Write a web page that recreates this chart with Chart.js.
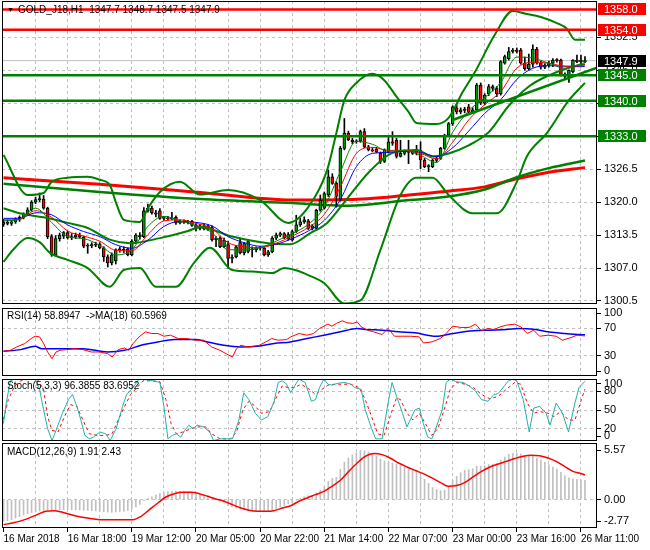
<!DOCTYPE html>
<html><head><meta charset="utf-8">
<script src="https://cdn.jsdelivr.net/npm/chart.js@4.4.1/dist/chart.umd.min.js"></script>
<style>
html,body{margin:0;padding:0;background:#fff;width:650px;height:550px;overflow:hidden}
canvas{position:absolute;left:0}
</style></head><body>
<canvas id="cMain" width="650" height="306" style="top:0px"></canvas>
<canvas id="cRsi" width="650" height="71" style="top:306px"></canvas>
<canvas id="cSto" width="650" height="65" style="top:377px"></canvas>
<canvas id="cMacd" width="650" height="108" style="top:442px"></canvas>
<script>
// ---------------- DATA ----------------
const xLabels = ['16 Mar 2018','16 Mar 18:00','19 Mar 12:00','20 Mar 05:00','20 Mar 22:00','21 Mar 14:00','22 Mar 07:00','23 Mar 00:00','23 Mar 16:00','26 Mar 11:00'];
const open  = [1315.6,1316.0,1315.8,1316.1,1316.6,1317.0,1317.6,1318.5,1320.0,1320.5,1320.6,1318.8,1313.2,1309.6,1312.8,1313.3,1314.0,1313.0,1313.2,1313.5,1313.1,1311.3,1311.4,1311.6,1311.7,1311.0,1309.2,1308.0,1308.4,1310.6,1310.7,1310.8,1309.6,1312.3,1313.4,1313.2,1318.3,1318.8,1317.9,1318.3,1316.8,1316.9,1316.7,1317.0,1315.9,1316.2,1316.0,1316.2,1315.4,1314.8,1315.3,1314.7,1315.0,1312.6,1312.9,1311.2,1311.6,1308.9,1309.2,1312.0,1310.0,1310.3,1310.8,1310.6,1310.9,1310.9,1309.6,1310.2,1312.9,1313.5,1313.8,1312.8,1312.5,1314.2,1315.5,1316.1,1316.3,1314.8,1314.8,1318.4,1318.8,1321.4,1325.0,1323.7,1320.6,1330.6,1333.6,1332.2,1331.9,1332.0,1333.9,1330.9,1330.3,1330.4,1329.6,1328.0,1329.9,1331.9,1332.2,1329.0,1329.6,1329.9,1329.8,1329.7,1330.2,1328.3,1327.0,1327.0,1328.2,1328.6,1330.6,1333.2,1335.4,1338.6,1337.8,1338.2,1338.8,1337.8,1338.2,1343.1,1339.5,1341.4,1342.8,1342.4,1341.4,1347.4,1348.3,1349.7,1350.0,1350.0,1347.4,1346.3,1347.2,1350.2,1347.4,1346.6,1347.0,1347.4,1348.0,1348.0,1345.1,1344.8,1345.7,1348.0,1347.7,1347.7];
const high  = [1316.6,1316.5,1316.4,1316.9,1317.3,1317.9,1318.9,1320.3,1321.0,1321.8,1321.3,1319.0,1313.6,1313.4,1313.9,1314.2,1314.3,1313.8,1313.9,1313.9,1313.3,1311.8,1312.0,1312.1,1312.0,1311.2,1309.6,1310.0,1310.8,1311.2,1311.2,1311.0,1312.6,1313.8,1314.0,1318.9,1319.6,1319.2,1318.4,1318.7,1317.2,1317.2,1318.0,1317.3,1316.5,1316.5,1316.4,1316.4,1315.8,1315.6,1315.6,1315.5,1315.3,1313.2,1313.2,1312.9,1312.3,1309.6,1311.5,1312.9,1312.0,1312.5,1311.2,1311.2,1311.3,1311.2,1310.5,1313.2,1313.9,1314.1,1314.0,1314.0,1314.5,1317.4,1316.8,1317.1,1316.6,1315.6,1318.6,1321.4,1322.0,1326.3,1325.6,1324.0,1331.0,1336.5,1334.0,1332.6,1332.3,1334.2,1334.5,1331.2,1330.7,1330.8,1329.9,1330.5,1332.9,1333.9,1332.6,1332.2,1330.3,1332.2,1330.2,1331.2,1331.9,1328.6,1327.4,1328.5,1328.9,1330.8,1333.4,1335.7,1339.0,1339.2,1338.6,1338.7,1339.3,1338.6,1343.4,1343.5,1341.4,1343.2,1343.1,1342.8,1347.9,1349.0,1350.5,1350.3,1350.4,1350.3,1348.6,1349.2,1351.0,1350.5,1347.8,1347.3,1347.8,1348.3,1348.3,1348.2,1345.5,1346.1,1348.1,1349.0,1349.0,1348.7];
const low   = [1315.2,1315.5,1315.4,1315.8,1316.2,1316.7,1317.3,1318.2,1319.7,1320.1,1318.6,1312.8,1309.3,1309.4,1312.3,1312.8,1312.7,1312.6,1312.8,1312.9,1311.0,1309.9,1311.0,1311.2,1310.8,1308.3,1307.2,1307.6,1307.8,1310.1,1310.0,1309.4,1309.4,1311.8,1312.7,1313.0,1318.0,1317.6,1317.1,1316.6,1316.4,1316.5,1316.5,1315.6,1315.7,1315.8,1315.7,1315.2,1314.3,1314.5,1314.5,1314.4,1312.3,1311.2,1311.0,1311.0,1306.9,1308.0,1309.0,1309.8,1309.6,1310.0,1309.2,1310.2,1310.5,1309.4,1309.3,1310.0,1312.6,1313.2,1312.8,1312.5,1312.3,1314.0,1315.2,1315.8,1314.6,1314.5,1314.6,1318.2,1318.6,1321.1,1323.5,1319.0,1320.2,1330.3,1332.1,1331.5,1331.6,1331.8,1330.7,1330.1,1329.9,1329.7,1327.6,1327.8,1329.7,1331.2,1328.7,1328.9,1329.3,1327.6,1329.4,1329.3,1326.6,1326.8,1326.0,1326.8,1327.9,1328.4,1330.4,1333.0,1335.1,1337.4,1337.4,1337.6,1337.6,1337.5,1338.0,1339.2,1339.2,1341.0,1341.9,1340.8,1341.1,1347.2,1348.0,1349.4,1349.4,1347.2,1346.0,1346.0,1346.6,1347.2,1346.2,1346.3,1346.6,1346.7,1347.6,1344.9,1344.4,1343.6,1345.5,1347.5,1347.3,1347.5];
const close = [1316.0,1315.8,1316.1,1316.6,1317.0,1317.6,1318.5,1320.0,1320.5,1320.7,1318.8,1313.2,1309.6,1312.8,1313.5,1314.0,1313.0,1313.2,1313.5,1313.1,1311.3,1311.4,1311.6,1311.5,1311.0,1309.2,1308.0,1309.6,1310.6,1310.7,1310.5,1309.6,1312.3,1313.5,1313.2,1318.3,1318.8,1317.9,1317.6,1316.8,1316.9,1316.7,1316.9,1315.9,1316.2,1316.0,1316.1,1315.4,1314.8,1315.3,1314.7,1315.2,1312.6,1312.9,1311.2,1312.5,1308.9,1309.1,1311.2,1310.0,1311.8,1312.2,1310.6,1310.9,1311.0,1309.6,1310.2,1312.9,1313.5,1313.8,1313.0,1313.6,1314.2,1315.5,1316.1,1316.5,1314.8,1315.3,1318.4,1320.4,1321.7,1325.0,1323.7,1321.1,1330.6,1333.6,1332.3,1331.9,1332.1,1333.9,1330.9,1330.3,1330.1,1329.9,1328.0,1330.3,1331.9,1331.6,1329.0,1329.6,1329.9,1329.8,1329.6,1330.3,1328.3,1327.0,1327.1,1328.3,1328.6,1330.6,1333.2,1335.5,1338.8,1337.8,1338.2,1338.1,1337.8,1338.2,1343.1,1339.5,1341.1,1342.8,1342.4,1341.4,1347.7,1348.7,1349.7,1350.0,1349.7,1347.4,1346.3,1347.2,1350.2,1347.4,1346.6,1347.0,1347.4,1348.0,1347.9,1345.1,1344.8,1346.0,1348.0,1347.7,1348.0,1347.9];

// thin moving averages (sampled)
const maBars = [0,4,8,12,16,20,24,28,32,36,40,44,48,52,56,60,64,68,72,76,80,84,88,92,96,100,104,108,112,116,120,124,128,132,136,140,144,145];
const maFast = [1316.3,1316.6,1318.8,1316.0,1313.2,1312.8,1311.5,1309.6,1310.6,1315.2,1317.2,1316.3,1315.4,1314.0,1310.6,1310.6,1311.0,1312.3,1313.8,1315.6,1319.0,1326.0,1332.0,1331.4,1330.0,1330.2,1329.2,1327.8,1333.8,1338.0,1340.6,1343.6,1348.6,1348.4,1347.4,1346.4,1347.3,1347.5];
const maMid  = [1316.5,1316.6,1318.3,1317.0,1314.3,1313.3,1312.3,1310.5,1310.4,1313.6,1316.3,1316.5,1315.8,1314.8,1312.0,1311.2,1311.0,1311.9,1313.3,1315.0,1317.6,1323.0,1329.6,1330.8,1330.2,1330.2,1329.6,1328.5,1331.8,1336.2,1339.2,1341.8,1346.4,1347.6,1347.4,1346.8,1346.9,1347.1];
const maSlow = [1316.8,1316.8,1317.9,1317.5,1315.5,1314.2,1313.2,1311.6,1310.9,1312.5,1315.2,1316.2,1316.0,1315.3,1313.2,1312.0,1311.3,1311.7,1312.8,1314.3,1316.4,1320.5,1327.0,1329.6,1329.8,1330.0,1329.8,1329.0,1330.7,1334.0,1337.5,1340.2,1344.2,1346.4,1346.9,1346.8,1346.7,1346.8];

// Bollinger bands (sampled)
const bbUpBars = [0,6,10,12,16,21,24,26.5,28,30,34,36,39,44,49,56,64,71,76,80.7,83,85,88,92,95,98,101,103,108,111,114.5,117.6,122.5,127,130,134,138,140.5,142.5,145];
const bbUp     = [1329.3,1321.4,1321.8,1324.0,1324.8,1325.0,1324.4,1323.4,1320.0,1316.5,1316.1,1318.8,1322.0,1324.0,1321.5,1322.4,1320.4,1315.9,1319.0,1326.3,1333.6,1340.1,1343.5,1345.3,1344.0,1340.8,1337.8,1335.6,1335.4,1336.6,1341.7,1345.7,1353.0,1357.7,1357.2,1356.5,1355.3,1354.2,1352.0,1352.0];
const bbMidBars = [0,4,10,16,21,26.5,31.5,39,46,49,57,66,71.5,76.5,80.7,86,91,97,103,107,111,116,121,126,131,136,141,145];
const bbMid     = [1318.8,1317.8,1317.0,1315.9,1314.9,1312.6,1311.9,1312.9,1314.3,1315.1,1313.2,1311.9,1311.7,1313.9,1315.9,1321.0,1325.8,1329.7,1330.3,1329.0,1329.6,1331.2,1333.8,1339.0,1342.8,1345.0,1346.5,1347.2];
const bbLoBars = [0,2.4,6,9,11.6,16,21,26.5,30,34,38,43,47.5,51.5,57,62,67,70,72.7,76,80,85,89,94,99,103,107,111,117,123,128,130.5,135.5,141,145];
const bbLo     = [1308.2,1310.6,1312.9,1312.1,1310.0,1308.6,1307.0,1303.3,1306.6,1307.0,1303.3,1303.3,1308.0,1311.0,1306.6,1306.3,1306.0,1307.0,1306.6,1305.6,1304.0,1300.0,1300.6,1310.6,1321.4,1324.8,1324.8,1321.4,1317.8,1317.8,1324.0,1329.0,1333.6,1340.1,1343.5];

// long moving averages (sampled)
const lmaBars  = [0,24,49,72,86,100,110,120,128,136,145];
const lmaRed   = [1324.8,1323.5,1321.9,1320.4,1320.5,1321.3,1322.1,1323.0,1324.6,1325.9,1326.8];
const lmaGreen = [1323.6,1322.0,1320.6,1319.8,1319.3,1320.3,1321.0,1322.5,1324.9,1326.7,1328.2];

// trend line and horizontal levels
const trendBars = [112,148];
const trendVals = [1336.2,1346.5];
const redLevels = [1358.0,1354.0];
const greenLevels = [1345.0,1340.0,1333.0];
const lastPrice = 1347.9;
const mainTicks = [1352.5,1346.0,1339.5,1333.0,1326.5,1320.0,1313.5,1307.0,1300.5];

// RSI(14) and MA(18)
const rsiBars = [0,1.7,3.3,5.3,6.9,7.9,9.0,10.0,11.0,12.1,13.1,14.1,15.7,17.8,19.8,21.9,24.0,26.0,27.1,28.6,30.2,31.2,32.3,33.8,35.4,36.9,38.5,40.0,41.6,43.6,45.7,47.8,49.9,51.9,54.0,55.5,57.1,58.1,59.2,60.2,61.2,62.3,63.8,65.4,66.9,68.5,70.6,71.6,73.7,75.7,77.3,78.8,80.9,81.9,83.0,84.5,85.6,87.1,88.2,89.2,90.8,92.3,94.4,95.9,97.5,99.5,101.6,103.7,104.7,106.8,108.9,110.4,112.0,114.0,116.1,117.7,119.2,120.8,122.3,123.9,125.4,127.5,129.0,130.6,132.2,133.7,135.8,137.8,139.4,141.5,143.0,145];
const rsiVals = [36.3,37.8,42.7,47.7,55.1,58.5,57.5,47.7,35.3,25.4,35.3,37.8,38.8,40.2,38.8,35.3,35.3,32.8,27.9,38.8,41.2,37.8,47.7,57.5,65.0,62.5,62.5,58.5,60.0,55.1,55.1,52.6,52.6,42.7,37.8,32.8,27.9,40.2,45.2,43.7,42.7,43.7,45.2,50.1,55.1,52.6,53.6,57.5,62.5,60.0,62.5,69.9,76.3,73.3,77.3,81.2,78.3,77.3,79.7,72.3,67.4,64.9,61.0,69.9,58.5,58.5,58.5,57.5,48.6,50.1,55.1,62.5,73.3,71.4,71.4,76.3,66.4,69.9,68.4,72.3,74.8,76.3,72.3,62.5,67.4,58.5,60.0,58.5,52.6,56.5,60.0,58.9];
const rsiMaBars = [0,4.3,7.9,9.5,13.6,19.8,26.0,30.2,34.3,38.5,42.6,47.8,50.9,55.0,59.2,63.3,67.5,71.6,75.7,79.9,84.0,88.2,90.2,94.4,98.5,102.6,107.8,112.0,117.2,121.3,125.4,128.5,132.7,135.8,139.9,145];
const rsiMaVals = [36.3,38.8,43.7,40.2,40.2,40.2,35.3,37.8,45.2,50.1,53.6,53.6,50.1,45.2,42.7,43.7,47.7,50.1,55.1,60.0,65.0,69.9,68.4,67.4,65.0,63.5,58.5,62.5,66.4,67.4,68.4,69.9,68.4,65.0,62.5,60.6];
const rsiTicks = [100,70,30,0];

// Stochastic(5,3,3)
const stBars = [0,0.7,1.7,2.8,4.3,6.4,7.9,9.0,10.0,11.0,12.1,13.1,14.7,16.2,17.2,18.3,19.3,20.3,21.4,22.4,24.0,25.5,26.6,28.1,29.7,30.7,32.3,33.8,35.4,37.4,39.0,40.0,41.0,42.1,43.1,44.2,45.2,46.2,47.3,48.3,49.9,51.4,52.4,54.0,55.5,57.1,58.7,59.9,61.2,62.8,64.3,65.9,67.5,68.5,69.5,70.6,71.6,72.6,73.7,75.2,76.8,77.8,78.8,79.9,80.9,81.9,83.5,85.1,86.6,87.6,89.2,90.2,91.8,92.8,94.4,95.9,96.9,98.0,99.5,100.6,101.6,102.6,103.7,104.7,105.8,106.8,107.8,109.4,110.4,111.4,113.0,114.6,116.1,117.7,119.2,120.8,122.3,123.4,124.9,125.9,127.0,128.0,129.6,131.1,132.2,133.7,135.3,136.3,137.8,139.4,140.9,142.5,143.5,145];
const stMain = [28.2,61.3,97.1,100,100,99.9,99.9,83.3,50.3,20.0,0.7,17.2,44.8,66.8,75.1,55.8,33.8,9.0,3.5,6.2,14.5,11.7,0.7,20.0,55.8,75.1,86.1,99.9,98.8,97.1,94.4,55.8,3.5,9.0,11.7,6.2,17.2,25.5,20.0,25.5,22.7,14.5,0.7,3.5,3.5,3.5,33.8,77.8,66.8,44.8,33.8,39.3,64.1,94.4,97.1,91.6,77.8,88.9,99.9,94.4,64.1,66.8,86.1,99.9,91.6,90.0,93.3,94.4,91.6,86.1,83.3,50.3,20.0,3.5,3.5,61.3,94.4,72.3,44.8,22.7,36.5,50.3,53.0,28.2,6.2,3.5,20.0,50.3,94.4,99.9,95.5,94.4,88.9,80.6,66.8,64.1,75.1,76.7,88.9,97.1,99.9,97.1,66.8,14.5,53.0,55.8,44.8,25.5,61.3,44.8,14.5,61.3,86.1,96.4];
const sgBars = [0,1.2,2.8,4.3,6.4,8.4,10.0,11.0,12.1,13.6,15.2,16.7,18.3,19.8,21.4,23.5,25.5,27.1,28.6,30.2,31.7,33.3,34.8,36.9,39.0,40.5,41.8,43.1,44.7,46.8,48.3,50.4,51.9,54.0,56.6,58.1,59.7,61.2,62.8,64.3,66.4,68.0,69.5,71.1,72.6,74.2,76.3,77.8,79.4,80.9,82.5,84.5,86.6,88.7,90.2,91.8,93.3,94.9,96.4,98.0,99.0,100.6,102.1,103.7,105.2,106.8,108.3,109.9,111.4,113.0,115.1,117.2,119.2,121.3,123.4,125.4,127.5,129.0,130.6,132.2,133.7,135.8,137.3,138.9,140.9,142.5,144.1,145];
const sgVals = [35,66.8,88.9,97.1,99.9,99.9,83.3,39.3,17.2,14.5,39.3,58.5,55.8,33.8,11.7,9.0,9.0,11.7,33.8,55.8,75.1,86.1,97.1,97.1,95.5,66.8,28.2,11.7,14.5,20.0,22.7,22.7,11.7,3.5,3.5,14.5,50.3,64.1,55.8,44.8,47.5,69.6,88.9,86.1,86.1,91.6,83.3,75.1,83.3,90.0,91.6,91.6,91.6,86.1,66.8,39.3,11.7,9.0,39.3,69.6,66.8,44.8,33.8,44.8,28.2,9.0,20.0,50.3,83.3,94.4,91.6,86.1,75.1,67.9,72.3,83.3,94.4,91.6,61.3,44.8,47.5,44.8,39.3,47.5,33.8,33.8,66.8,83.7];
const stoTicks = [100,80,50,20,0];

// MACD(12,26,9)
const macdHist = [-2.1,-2.05,-1.95,-1.8,-1.65,-1.5,-1.38,-1.27,-1.18,-1.1,
 -1.03,-0.98,-0.97,-0.97,-0.97,-0.97,-0.97,-0.97,-0.98,-1.0,
 -1.02,-1.04,-1.07,-1.1,-1.13,-1.17,-1.2,-1.23,-1.2,-1.15,
 -1.13,-1.05,-0.9,-0.7,-0.45,-0.1,0.15,0.3,0.45,0.6,
 0.7,0.78,0.83,0.85,0.83,0.8,0.75,0.68,0.55,0.45,
 0.35,0.25,0.12,0.02,-0.15,-0.3,-0.55,-0.7,-0.8,-0.9,
 -1.0,-1.05,-1.1,-1.15,-1.15,-1.2,-1.15,-1.0,-0.85,-0.7,
 -0.55,-0.4,-0.3,-0.05,0.15,0.3,0.35,0.4,0.65,0.95,
 1.3,1.8,2.1,2.2,3.0,3.7,4.1,4.4,4.6,4.85,
 4.8,4.7,4.5,4.3,4.0,3.8,3.7,3.6,3.5,3.35,
 3.2,3.05,2.9,2.8,2.3,2.0,1.6,1.2,1.0,0.9,
 0.95,1.3,1.9,2.3,2.65,2.9,2.95,3.05,3.3,3.3,
 3.35,3.45,3.5,3.55,3.9,4.2,4.45,4.55,4.6,4.5,
 4.35,4.3,4.25,4.1,3.9,3.7,3.45,3.2,3.0,2.7,
 2.35,2.15,2.05,2.0,1.95,1.91];
const msBars = [0,2.2,5.3,8.4,10.5,12.6,14.7,17.8,20.9,24.0,27.1,30.2,32.3,34.3,36.4,38.5,40.5,42.6,44.7,46.8,48.8,50.9,53.0,55.0,57.1,59.2,61.2,63.3,65.4,67.4,69.5,71.6,73.7,75.7,77.8,79.9,81.9,84.0,86.1,88.2,90.2,92.3,94.4,96.4,98.5,100.6,102.6,104.7,106.8,108.9,110.9,113.0,115.1,117.1,119.2,121.3,123.4,125.4,127.5,129.6,131.6,133.7,135.8,137.8,139.9,142.0,144.1,145];
const msVals = [-2.44,-2.28,-1.95,-1.46,-1.13,-1.07,-1.23,-1.56,-1.79,-1.95,-1.95,-1.95,-1.95,-1.62,-0.97,-0.32,0.27,0.6,0.73,0.73,0.6,0.34,0.08,-0.15,-0.48,-0.81,-1.03,-1.13,-1.13,-1.07,-0.81,-0.58,-0.15,0.18,0.5,0.83,1.32,1.91,2.79,3.61,4.26,4.53,4.43,4.1,3.61,3.22,2.89,2.56,2.14,1.71,1.32,1.39,1.71,2.24,2.79,3.22,3.51,3.77,4.04,4.26,4.36,4.33,4.1,3.77,3.28,2.79,2.56,2.43];
const macdTicks = [5.57,0.00,-2.77];

// ---------------- STYLE / LAYOUT ----------------
const X_MIN = -0.374, X_MAX = 148.0;
const FONT = "'Liberation Sans', Arial, sans-serif";
const GRID = '#c0c0c0', GREEN = '#008000', RED = '#ff0000', BLUE = '#0000ff', TEAL = '#20b2aa';
const AXIS_W = 53;

const pts = (xs, ys) => xs.map((x, i) => ({x, y: ys[i]}));
const span = v => [{x: X_MIN, y: v}, {x: X_MAX, y: v}];
function lineDs(data, color, width, order, extra) {
  return Object.assign({type: 'line', data, borderColor: color, backgroundColor: color, borderWidth: width,
    pointRadius: 0, fill: false, tension: 0, order}, extra || {});
}
const smooth = {cubicInterpolationMode: 'monotone'};

function xScale(showLabels, height) {
  return {
    type: 'linear', min: X_MIN, max: X_MAX, offset: false,
    afterBuildTicks: s => { const t = []; for (let b = 0; b <= X_MAX; b += 8) t.push({value: b}); s.ticks = t; },
    ticks: {display: showLabels, autoSkip: false, maxRotation: 0, minRotation: 0, align: 'start', padding: 1,
      color: '#000', font: {family: FONT, size: 10},
      callback: v => (v % 16 === 0 && xLabels[v / 16]) ? xLabels[v / 16] : ''},
    grid: {offset: false, lineWidth: 1, drawTicks: showLabels, tickLength: 4,
      tickColor: ctx => (ctx.tick && ctx.tick.value % 16 === 0) ? '#000' : 'rgba(0,0,0,0)',
      color: ctx => (ctx.tick && ctx.tick.value > 0) ? GRID : 'rgba(0,0,0,0)'},
    border: {display: false, dash: [3, 3]},
    afterFit: s => { s.height = height; s.paddingLeft = 0; s.paddingRight = 0; }
  };
}
function yScale(min, max, vals, labels, gridVals, areaH, insetPx) {
  const ins = insetPx * (max - min) / areaH;
  const place = v => Math.min(Math.max(v, min + ins), max - ins);
  return {
    position: 'right', min, max,
    afterBuildTicks: s => { s.ticks = vals.map(v => ({value: place(v)})); },
    ticks: {autoSkip: false, padding: 3, color: '#000', font: {family: FONT, size: 11},
      callback: (v, i) => labels[i]},
    grid: {lineWidth: 1, drawTicks: true, tickLength: 4, tickColor: '#000',
      color: ctx => gridVals.includes(vals[ctx.index]) ? GRID : 'rgba(0,0,0,0)'},
    border: {display: false, dash: [3, 3]},
    afterFit: s => { s.width = AXIS_W; s.paddingTop = 0; s.paddingBottom = 0; }
  };
}
const frame = {id: 'frame', afterDraw(c) {
  const a = c.chartArea, ctx = c.ctx;
  ctx.save(); ctx.strokeStyle = '#000'; ctx.lineWidth = 1;
  ctx.strokeRect(Math.floor(a.left) + 0.5, Math.floor(a.top) + 0.5, Math.round(a.right - a.left) - 1, Math.round(a.bottom - a.top) - 1);
  ctx.restore();
}};
function caption(text, y, withArrow) {
  return {id: 'caption', afterDraw(c) {
    const ctx = c.ctx; ctx.save();
    ctx.fillStyle = '#000'; ctx.textBaseline = 'middle';
    let x = 7;
    if (withArrow) { ctx.font = '7px ' + FONT; ctx.fillText('\u25BC', 7, y); x = 18; }
    ctx.font = '10px ' + FONT; ctx.fillText(text, x, y);
    ctx.restore();
  }};
}
const tagPlugin = {id: 'tags', afterDraw(c) {
  const ctx = c.ctx, y = c.scales.y, left = c.chartArea.right + 1;
  const tag = (v, bg) => {
    const py = Math.round(y.getPixelForValue(v));
    ctx.fillStyle = bg; ctx.fillRect(left, py - 6, 48, 12);
    ctx.fillStyle = '#fff'; ctx.font = '11px ' + FONT; ctx.textBaseline = 'middle';
    ctx.fillText(v.toFixed(1), left + 6, py + 0.5);
  };
  ctx.save();
  redLevels.forEach(v => tag(v, RED));
  greenLevels.forEach(v => tag(v, GREEN));
  tag(lastPrice, '#000');
  ctx.restore();
}};
function baseOptions(pad, scales) {
  return {responsive: false, animation: false, devicePixelRatio: 1, events: [],
    layout: {padding: pad},
    plugins: {legend: {display: false}, tooltip: {enabled: false}},
    scales};
}

// ---------------- MAIN PANEL ----------------
const idx = close.map((_, i) => i);
const wicks = idx.map(i => ({x: i, y: [low[i], high[i]]}));
const bodies = idx.map(i => ({x: i, y: [open[i], close[i]]}));
const bodyColors = idx.map(i => close[i] >= open[i] ? '#009a00' : RED);
const MAIN_TOP = 1, MAIN_BOT = 304;
const pxPerUnit = 5.071, refY = 37.3, refP = 1352.5;
const yMaxMain = refP + (refY - MAIN_TOP) / pxPerUnit, yMinMain = refP - (MAIN_BOT - refY) / pxPerUnit;

const mainDs = [
  lineDs(span(lastPrice), GRID, 1, 40),
  lineDs(pts(lmaBars, lmaRed), RED, 3, 35, smooth),
  lineDs(pts(lmaBars, lmaGreen), GREEN, 2.5, 34, smooth),
  {type: 'bar', data: wicks, backgroundColor: '#000', barThickness: 1, grouped: false, order: 30},
  {type: 'bar', data: bodies, backgroundColor: bodyColors, borderColor: '#000', borderWidth: 1, borderSkipped: false,
    barThickness: 3, grouped: false, minBarLength: 1, order: 29},
  lineDs(pts(bbUpBars, bbUp), GREEN, 2, 20, smooth),
  lineDs(pts(bbMidBars, bbMid), GREEN, 2, 20, smooth),
  lineDs(pts(bbLoBars, bbLo), GREEN, 2, 20, smooth),
  lineDs(pts(maBars, maSlow), BLUE, 1, 12, smooth),
  lineDs(pts(maBars, maMid), RED, 1, 11, smooth),
  lineDs(pts(maBars, maFast), GREEN, 1, 10, smooth),
  lineDs(pts(trendBars, trendVals), GREEN, 2.5, 6)
];
redLevels.forEach(v => mainDs.push(lineDs(span(v), RED, 2.5, 4)));
greenLevels.forEach(v => mainDs.push(lineDs(span(v), GREEN, 2.5, 4)));

new Chart(document.getElementById('cMain'), {
  type: 'bar', data: {datasets: mainDs},
  options: baseOptions({left: 2, right: 0, top: MAIN_TOP, bottom: 306 - MAIN_BOT}, {
    x: xScale(false, 0),
    y: yScale(yMinMain, yMaxMain, mainTicks, mainTicks.map(v => v.toFixed(1)), mainTicks, MAIN_BOT - MAIN_TOP, 0)
  }),
  plugins: [frame, tagPlugin, caption('GOLD_J18,H1  1347.7 1348.7 1347.5 1347.9', 10, true)]
});

// ---------------- RSI PANEL ----------------
new Chart(document.getElementById('cRsi'), {
  type: 'line', data: {datasets: [
    lineDs(pts(rsiMaBars, rsiMaVals), BLUE, 1.5, 2, smooth),
    lineDs(pts(rsiBars, rsiVals), RED, 1, 1)
  ]},
  options: baseOptions({left: 2, right: 0, top: 2, bottom: 1}, {
    x: xScale(false, 0),
    y: yScale(0, 100, rsiTicks, rsiTicks.map(String), [70, 30], 68, 5)
  }),
  plugins: [frame, caption('RSI(14) 58.8947  ->MA(18) 60.5969', 10, false)]
});

// ---------------- STOCH PANEL ----------------
new Chart(document.getElementById('cSto'), {
  type: 'line', data: {datasets: [
    lineDs(pts(sgBars, sgVals), RED, 1, 2, {borderDash: [3, 3]}),
    lineDs(pts(stBars, stMain), TEAL, 1, 1)
  ]},
  options: baseOptions({left: 2, right: 0, top: 2, bottom: 1}, {
    x: xScale(false, 0),
    y: yScale(0, 100, stoTicks, stoTicks.map(String), [80, 50, 20], 62, 5)
  }),
  plugins: [frame, caption('Stoch(5,3,3) 96.3855 83.6952', 9, false)]
});

// ---------------- MACD PANEL ----------------
new Chart(document.getElementById('cMacd'), {
  type: 'bar', data: {datasets: [
    {type: 'bar', data: macdHist.map((v, i) => ({x: i, y: v})), backgroundColor: GRID, barThickness: 1, grouped: false, order: 3},
    lineDs(pts(msBars, msVals), RED, 1.5, 1, smooth)
  ]},
  options: baseOptions({left: 2, right: 0, top: 1, bottom: 0}, {
    x: xScale(true, 22),
    y: yScale(-2.77, 5.57, macdTicks, macdTicks.map(v => v.toFixed(2)), [0], 85, 7)
  }),
  plugins: [frame, caption('MACD(12,26,9) 1.91 2.43', 10, false)]
});
</script>
</body></html>
